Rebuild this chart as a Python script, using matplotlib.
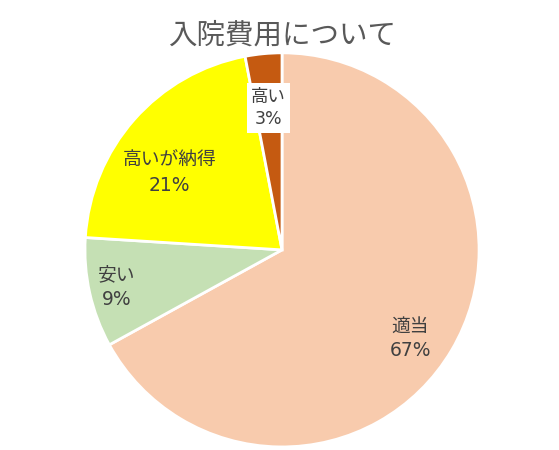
import matplotlib
matplotlib.use('Agg')
import matplotlib.pyplot as plt

plt.rcParams['font.family'] = ['Noto Sans CJK JP', 'DejaVu Sans']

labels = ['適当', '安い', '高いが納得', '高い']
values = [67, 9, 21, 3]
colors = ['#F8CBAD', '#C5E0B4', '#FFFF00', '#C55A11']

fig = plt.figure(figsize=(5.59, 4.5), dpi=100)
ax = fig.add_axes([0.152, 0.0067, 0.705, 0.876])

wedges, _ = ax.pie(values, colors=colors, startangle=90, counterclock=False,
                   wedgeprops=dict(edgecolor='white', linewidth=2))
ax.set_aspect('equal')
ax.set_xlim(-1, 1)
ax.set_ylim(-1, 1)

# label positions in data units (radius = 1)
pos = [(0.65, -0.45), (-0.84, -0.19), (-0.57, 0.39), (-0.07, 0.72)]
sizes = [13.5, 13.5, 13.5, 12.5]
for (x, y), lab, v, fs in zip(pos, labels, values, sizes):
    txt = ax.text(x, y, lab + '\n' + str(v) + '%', ha='center', va='center',
                  fontsize=fs, color='#404040', linespacing=1.35,
                  family=['DejaVu Sans', 'Noto Sans CJK JP'])
    if lab == '高い':
        txt.set_bbox(dict(facecolor='white', edgecolor='none', pad=3))

fig.text(0.5045, 0.922, '入院費用について', ha='center', va='center',
         fontsize=20.5, color='#595959')

fig.savefig('out.png', dpi=100)
